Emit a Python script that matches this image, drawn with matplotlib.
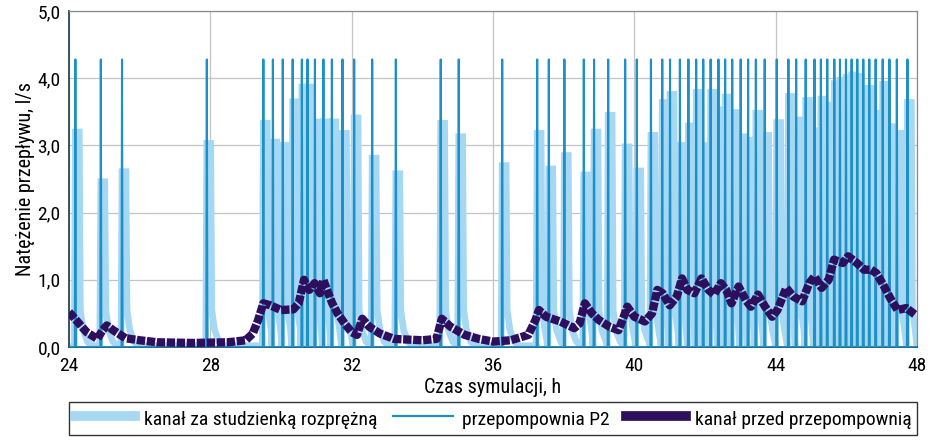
import matplotlib
matplotlib.use("Agg")
import matplotlib.pyplot as plt
from matplotlib.lines import Line2D

# pump cycles of P2 (start hour) and peak flow seen downstream of the chamber
pump_t = [24.18, 24.90, 25.50, 27.90, 29.50, 29.77, 30.05, 30.33, 30.59, 30.75,
          30.96, 31.20, 31.44, 31.74, 32.07, 32.58, 33.25, 34.52, 35.03, 36.26,
          37.25, 37.58, 38.02, 38.57, 38.86, 39.26, 39.74, 40.07, 40.47, 40.79,
          41.01, 41.29, 41.53, 41.75, 41.95, 42.16, 42.38, 42.57, 42.77, 43.01,
          43.22, 43.44, 43.69, 44.03, 44.36, 44.58, 44.85, 45.10, 45.28, 45.46,
          45.66, 45.82, 45.99, 46.15, 46.31, 46.48, 46.65, 46.83, 47.03, 47.22,
          47.43, 47.73]
chamber_peak = [3.20, 2.46, 2.61, 3.03, 3.33, 3.05, 3.00, 3.65, 3.87, 3.87,
                3.35, 3.35, 3.35, 3.18, 3.41, 2.81, 2.58, 3.33, 3.13, 2.70,
                3.18, 2.65, 2.85, 2.56, 3.20, 3.45, 2.98, 2.62, 3.15, 3.64,
                3.76, 3.00, 3.29, 3.79, 3.00, 3.79, 3.53, 3.72, 3.49, 3.13,
                3.08, 3.48, 3.15, 3.34, 3.73, 3.38, 3.67, 3.22, 3.69, 3.60,
                3.92, 3.97, 4.01, 4.05, 4.03, 3.85, 3.85, 3.48, 3.91, 3.28,
                3.18, 3.64]
pump_q = 4.28

# inflow to the pumping station
inflow_t = [24.0, 24.2, 24.5, 24.8, 24.95, 25.07, 25.25, 25.6, 26.0, 26.5, 27.5,
            28.5, 29.0, 29.2, 29.35, 29.5, 29.7, 30.0, 30.35, 30.5, 30.65, 30.8,
            30.95, 31.1, 31.2, 31.3, 31.45, 31.6, 31.8, 32.0, 32.15, 32.3, 32.5,
            32.8, 33.2, 34.0, 34.4, 34.55, 34.8, 35.2, 35.6, 36.0, 36.5, 37.0,
            37.2, 37.3, 37.5, 37.9, 38.3, 38.45, 38.6, 38.8, 39.0, 39.3, 39.55,
            39.7, 39.8, 40.0, 40.3, 40.5, 40.65, 40.8, 41.0, 41.2, 41.35, 41.5,
            41.7, 41.9, 42.1, 42.25, 42.45, 42.6, 42.75, 42.95, 43.15, 43.3,
            43.5, 43.7, 43.9, 44.05, 44.3, 44.5, 44.75, 44.95, 45.1, 45.3, 45.5,
            45.65, 45.9, 46.05, 46.3, 46.5, 46.7, 46.85, 47.05, 47.25, 47.45,
            47.7, 47.95]
inflow_q = [0.52, 0.40, 0.22, 0.12, 0.25, 0.32, 0.25, 0.13, 0.10, 0.07, 0.06,
            0.07, 0.10, 0.20, 0.40, 0.65, 0.62, 0.55, 0.56, 0.65, 1.00, 0.85,
            0.95, 0.80, 1.00, 0.85, 0.65, 0.50, 0.35, 0.22, 0.18, 0.42, 0.30,
            0.20, 0.12, 0.10, 0.12, 0.42, 0.30, 0.18, 0.12, 0.08, 0.10, 0.18,
            0.40, 0.55, 0.45, 0.38, 0.28, 0.35, 0.65, 0.50, 0.40, 0.30, 0.25,
            0.45, 0.60, 0.45, 0.38, 0.50, 0.85, 0.80, 0.62, 0.75, 1.02, 0.85,
            0.80, 1.02, 0.85, 0.78, 0.95, 0.85, 0.65, 0.90, 0.70, 0.60, 0.78,
            0.60, 0.45, 0.55, 0.88, 0.75, 0.68, 0.95, 1.05, 0.88, 1.00, 1.30,
            1.25, 1.35, 1.25, 1.15, 1.15, 1.10, 0.92, 0.72, 0.55, 0.58, 0.48]

x_ticks = [24, 28, 32, 36, 40, 44, 48]
y_ticks = [0, 1, 2, 3, 4, 5]
y_labels = ["0,0", "1,0", "2,0", "3,0", "4,0", "5,0"]

c_chamber = "#a6d8f4"
c_pump = "#1e90c8"
c_inflow = "#2e0f5e"

plt.rcParams["font.family"] = ["Roboto Condensed", "Archivo Narrow", "PT Sans Narrow",
                               "Liberation Sans Narrow", "DejaVu Sans"]

# pump P2: narrow spikes
px, py = [24.0], [0.0]
for t in pump_t:
    px += [t - 0.015, t, t + 0.015]
    py += [0.0, pump_q, 0.0]
px.append(48.0)
py.append(0.0)

# chamber outflow: short plateau after each pump start, then a quick tail
cx, cy = [24.0], [0.0]
for i, (t, h) in enumerate(zip(pump_t, chamber_peak)):
    nxt = pump_t[i + 1] if i + 1 < len(pump_t) else 48.0
    cx += [t - 0.03, t, t + 0.11]
    cy += [0.02, h, h]
    for dt, v in [(0.14, 0.55), (0.22, 0.25), (0.34, 0.08), (0.47, 0.02)]:
        if t + dt < nxt - 0.03:
            cx.append(t + dt)
            cy.append(v)
cx.append(48.0)
cy.append(0.0)

fig = plt.figure(figsize=(9.38, 4.44), dpi=100)
ax = fig.add_axes([0.0736, 0.2185, 0.9040, 0.7565])

ax.plot(cx, cy, color=c_chamber, lw=4.8, solid_joinstyle="miter", zorder=2)
ax.plot(px, py, color=c_pump, lw=1.5, zorder=3)
ax.plot(inflow_t, inflow_q, color=c_inflow, lw=6.0, dashes=(1.0, 0.2),
        dash_capstyle="butt", zorder=4)

ax.set_xlim(24, 48)
ax.set_ylim(0, 5)
ax.set_xticks(x_ticks)
ax.set_yticks(y_ticks)
ax.set_yticklabels(y_labels)
ax.tick_params(length=0, labelsize=14)
ax.tick_params(axis="x", pad=7)
ax.tick_params(axis="y", pad=6)
ax.grid(True, color="#c4c4c4", lw=0.9)
ax.set_axisbelow(True)
for s in ["top", "right"]:
    ax.spines[s].set_color("#8a8a8a")
    ax.spines[s].set_linewidth(0.9)
ax.spines["left"].set_color("#2b4656")
ax.spines["bottom"].set_color("#1d5a7a")
ax.spines["left"].set_linewidth(1.3)
ax.spines["bottom"].set_linewidth(1.3)

ax.set_xlabel("Czas symulacji, h", fontsize=14.5, va="top")
ax.xaxis.set_label_coords(0.5, -0.092)
ax.set_ylabel("Natężenie przepływu, l/s", fontsize=14.5)
ax.yaxis.set_label_coords(-0.040, 0.5)

handles = [Line2D([], [], color=c_chamber, lw=7),
           Line2D([], [], color=c_pump, lw=1.6),
           Line2D([], [], color=c_inflow, lw=7)]
labels = ["kanał za studzienką rozprężną", "przepompownia P2", "kanał przed przepompownią"]
leg = ax.legend(handles, labels, ncol=3, loc="upper left", mode="expand",
                bbox_to_anchor=(0.0, -0.164, 1.0, 0.0), fontsize=14,
                handlelength=3.1, handletextpad=0.45, handleheight=1.3,
                borderaxespad=0, frameon=True, fancybox=False,
                edgecolor="black", borderpad=0.3)
leg.get_frame().set_linewidth(1.0)

fig.savefig("out.png", dpi=100)
